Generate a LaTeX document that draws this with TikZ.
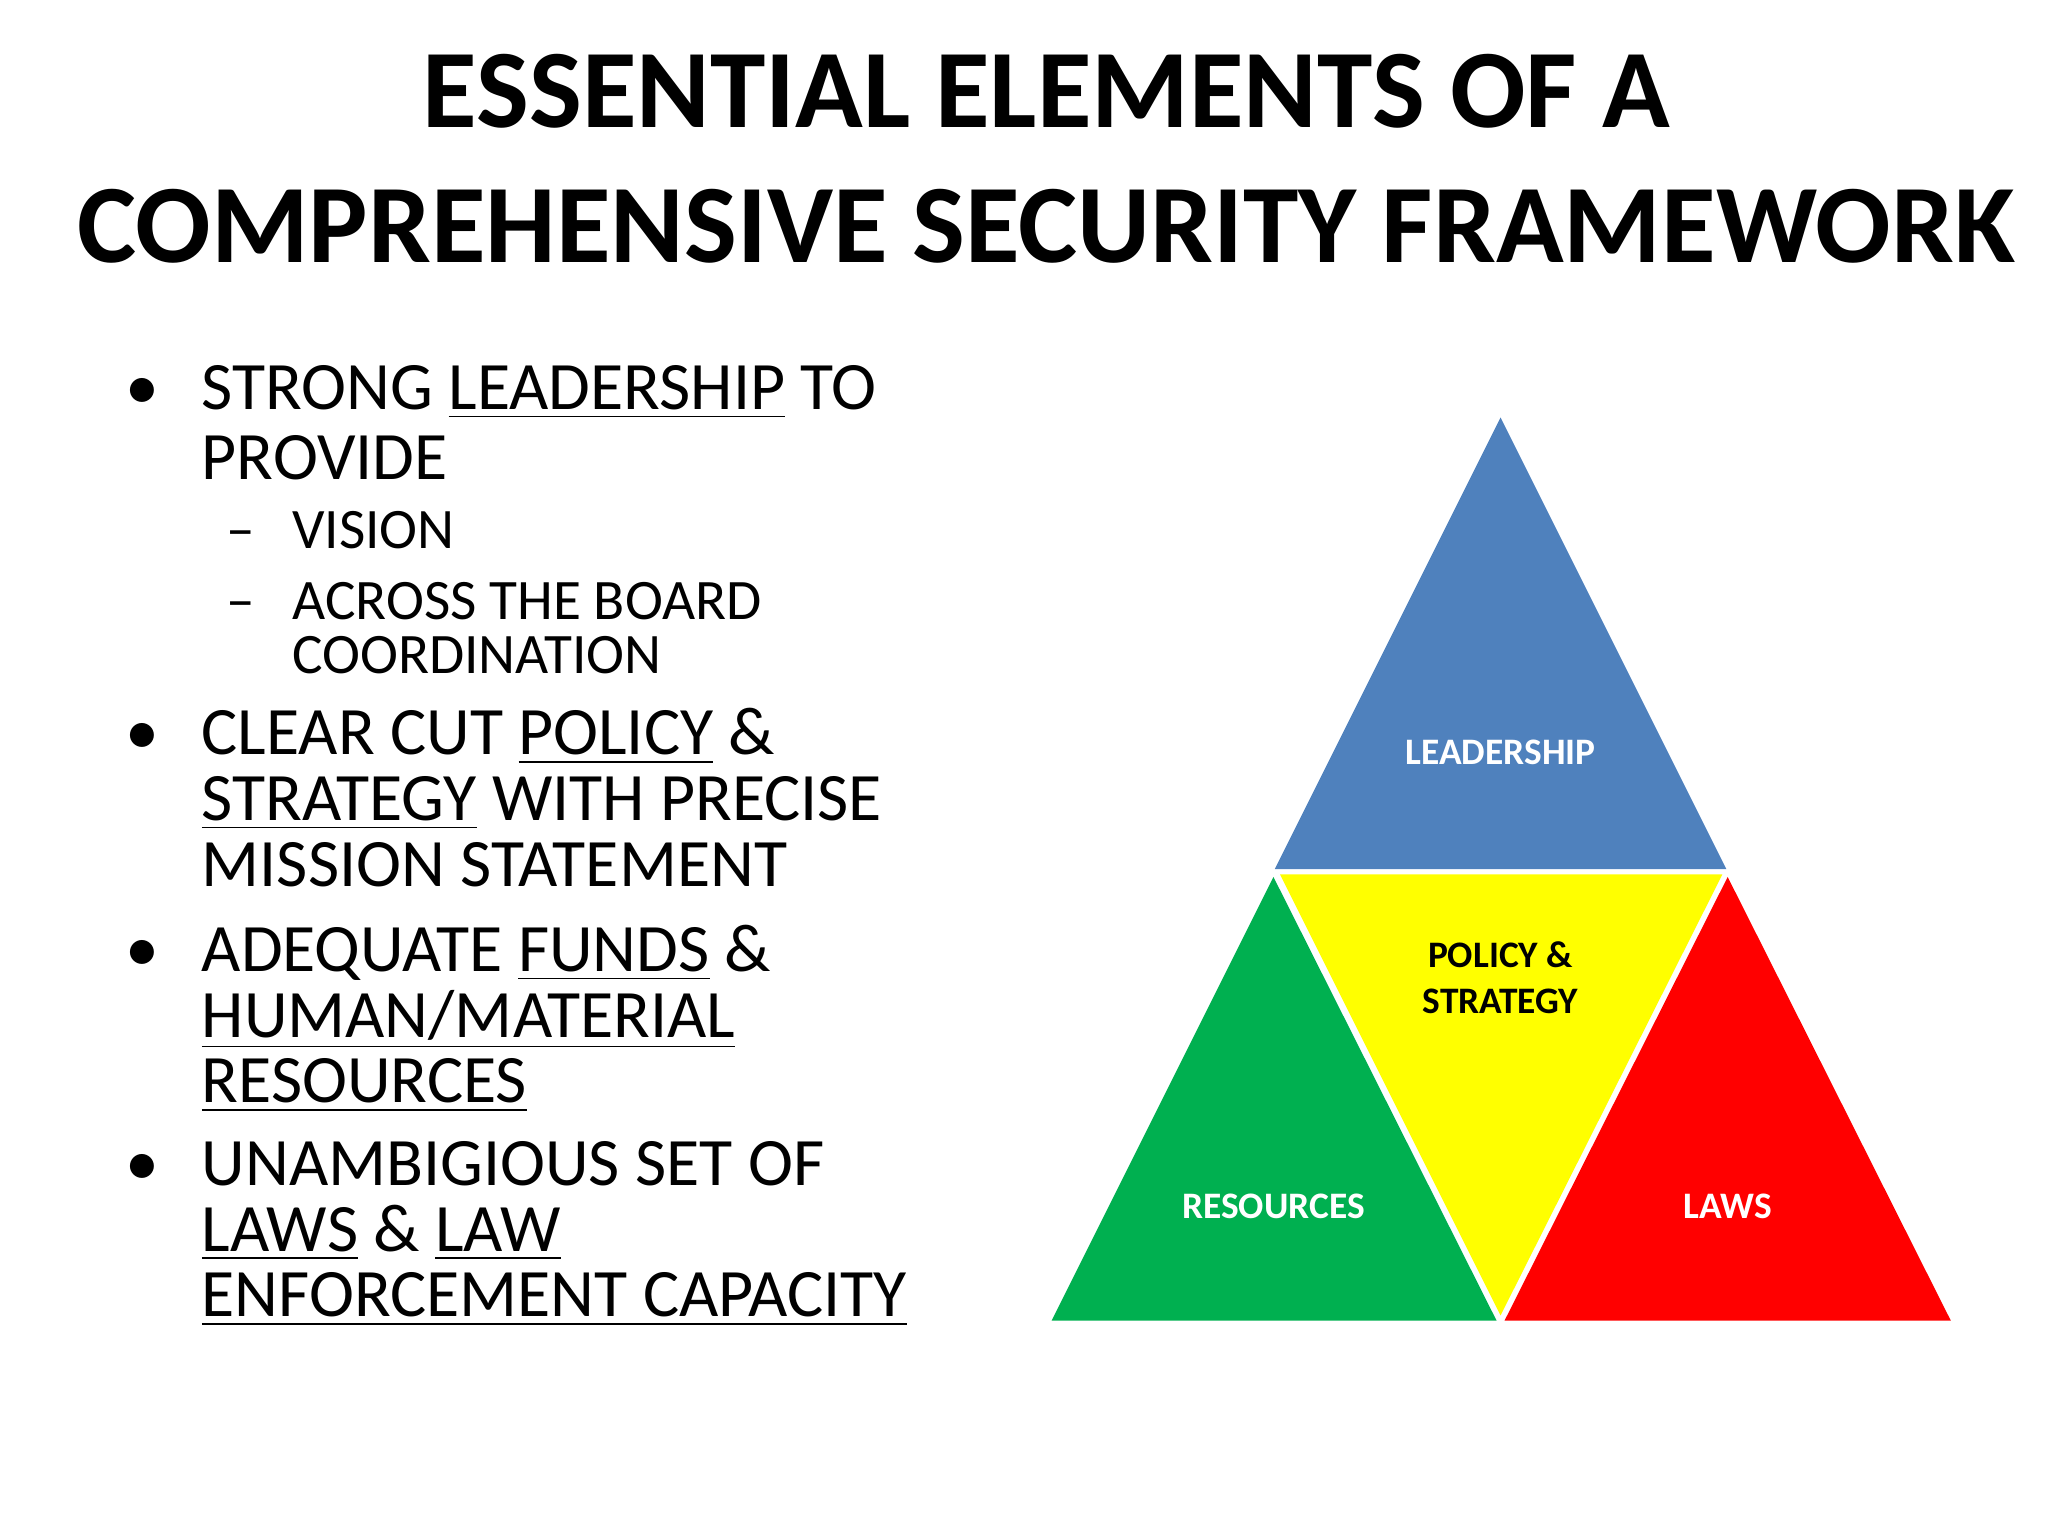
\documentclass[tikz,border=0pt]{standalone}
\usepackage{fontspec}
\setmainfont{Carlito}
\begin{document}
\begin{tikzpicture}[x=0.01cm,y=-0.01cm,
  body/.style={anchor=base west,inner sep=0,font=\fontsize{14.7}{18}\selectfont},
  sub/.style={anchor=base west,inner sep=0,font=\fontsize{12.4}{15}\selectfont},
  ttl/.style={anchor=base,inner sep=0,font=\fontsize{24.2}{30}\selectfont\bfseries},
  lab/.style={inner sep=0,font=\fontsize{8.1}{10}\selectfont\bfseries,align=center}]
\useasboundingbox (0,0) rectangle (1560,1170);
\node[ttl] (t1) at (797,97) {ESSENTIAL ELEMENTS OF A};
\node[ttl] (t2) at (797,200) {COMPREHENSIVE SECURITY FRAMEWORK};
\foreach \y/\n in {312/b1,575/b2,740/b3,903/b4}{\node[body] (\n) at (95,\y) {•};}
\node[body] (l1) at (153,312) {STRONG \underline{LEADERSHIP} TO};
\node[body] (l2) at (153,365) {PROVIDE};
\node[sub] (d1) at (172,418) {–};
\node[sub] (s1) at (222,418) {VISION};
\node[sub] (d2) at (172,472) {–};
\node[sub] (s2) at (222,472) {ACROSS THE BOARD};
\node[sub] (s3) at (222,513) {COORDINATION};
\node[body] (l3) at (153,575) {CLEAR CUT \underline{POLICY} \&};
\node[body] (l4) at (153,625) {\underline{STRATEGY} WITH PRECISE};
\node[body] (l5) at (153,675) {MISSION STATEMENT};
\node[body] (l6) at (153,740) {ADEQUATE \underline{FUNDS} \&};
\node[body] (l7) at (153,790) {\underline{HUMAN/MATERIAL}};
\node[body] (l8) at (153,840) {\underline{RESOURCES}};
\node[body] (l9) at (153,903) {UNAMBIGIOUS SET OF};
\node[body] (l10) at (153,953) {\underline{LAWS} \& \underline{LAW}};
\node[body] (l11) at (153,1003) {\underline{ENFORCEMENT CAPACITY}};
\fill[fill={rgb,255:red,79;green,129;blue,189}] (1143,318) -- (971,662) -- (1315,662) -- cycle;
\fill[fill={rgb,255:red,0;green,176;blue,80}] (970,668) -- (801,1006) -- (1140,1006) -- cycle;
\fill[fill={rgb,255:red,255;green,0;blue,0}] (1316,668) -- (1146,1006) -- (1486,1006) -- cycle;
\fill[fill={rgb,255:red,255;green,255;blue,0}] (975,666) -- (1312,666) -- (1143,1002) -- cycle;
\node[lab,text=white] (L) at (1143,573) {LEADERSHIP};
\node[lab] (P) at (1143,745) {POLICY \&\\STRATEGY};
\node[lab,text=white] (R) at (970,919) {RESOURCES};
\node[lab,text=white] (W) at (1316,919) {LAWS};
\end{tikzpicture}
\end{document}
